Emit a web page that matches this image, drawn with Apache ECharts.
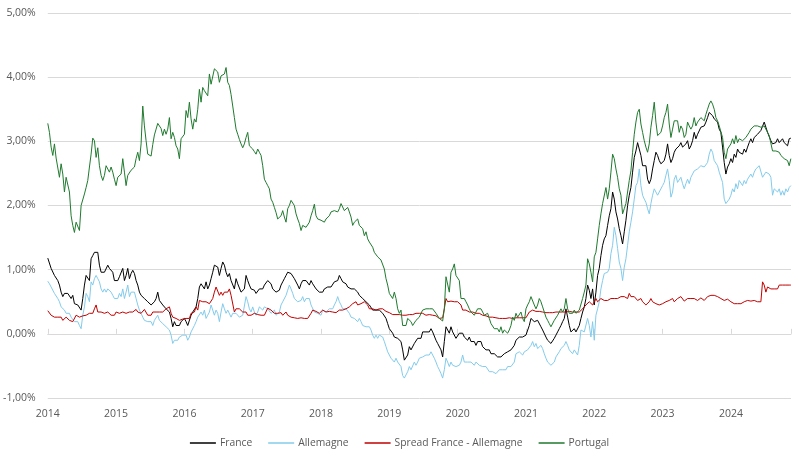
<!DOCTYPE html>
<html>
<head>
<meta charset="utf-8">
<script src="https://cdn.jsdelivr.net/npm/echarts@6/dist/echarts.min.js"></script>
<style>
html,body{margin:0;padding:0;background:#fff;}
#chart{width:799px;height:459px;}
</style>
</head>
<body>
<div id="chart"></div>
<script>
// Series sampled at a regular step (~9 days), starting at the beginning of 2014
const START_YEAR = 2014;
const POINTS_PER_YEAR = 41;
const yearTicks = [2014,2015,2016,2017,2018,2019,2020,2021,2022,2023,2024];
const seriesNames = ['France','Allemagne','Spread France - Allemagne','Portugal'];

const france = [
1.18,1.15,1.02,1.04,0.91,0.89,0.83,0.76,0.65,
0.58,0.63,0.60,0.63,0.60,0.55,0.60,0.47,0.49,0.45,
0.42,0.37,0.55,0.76,0.91,0.89,0.83,1.17,1.22,1.27,
1.25,1.27,1.07,0.96,0.94,0.96,0.96,1.07,1.02,0.99,
0.96,0.83,0.86,0.83,0.89,0.86,1.02,0.83,0.91,1.02,
0.86,0.94,0.99,0.94,0.83,0.76,0.65,0.60,0.58,0.55,
0.55,0.50,0.47,0.45,0.42,0.50,0.55,0.65,0.52,0.50,
0.45,0.47,0.39,0.42,0.34,0.24,0.11,0.19,0.13,0.16,
0.13,0.19,0.21,0.24,
0.19,0.13,0.11,0.29,
0.34,0.32,0.42,0.55,0.73,0.78,0.76,0.70,0.81,0.70,
0.76,0.86,0.96,1.07,1.07,1.04,0.91,1.02,1.12,1.07,
0.96,0.89,0.94,0.83,0.81,0.70,0.86,0.78,0.76,0.65,
0.63,0.70,0.91,0.83,0.76,0.70,0.73,0.68,0.63,0.65,
0.70,0.73,0.70,0.76,0.73,0.83,0.81,0.78,0.70,0.73,
0.65,0.63,0.68,0.76,0.81,0.86,0.91,0.96,0.99,0.94,
0.91,0.86,0.83,0.76,0.70,0.78,0.83,0.81,0.83,0.81,
0.76,0.83,0.78,0.76,0.70,0.73,0.65,0.63,
0.65,0.70,0.68,0.73,0.70,0.73,0.76,0.81,0.83,0.83,
0.91,0.86,0.81,0.78,0.78,0.73,0.70,0.70,0.68,0.70,
0.68,0.65,0.60,0.58,0.55,0.52,0.50,0.52,0.45,0.42,
0.37,0.37,0.37,0.37,0.37,0.34,0.32,0.29,0.24,0.16,
0.08,0.06,0.01,-0.05,-0.02,-0.07,-0.10,-0.12,-0.25,-0.41,
-0.39,-0.33,-0.20,-0.25,-0.23,-0.15,-0.12,-0.07,-0.05,-0.07,
0.03,0.01,0.03,0.06,0.03,0.08,0.03,0.01,-0.10,-0.15,
-0.18,-0.25,-0.36,-0.12,0.11,0.08,0.01,0.11,0.03,0.01,
-0.07,
-0.05,0.01,-0.02,0.01,-0.05,-0.07,-0.10,-0.05,-0.12,-0.10,
-0.12,-0.18,-0.12,-0.15,-0.12,-0.20,-0.23,-0.25,-0.23,-0.25,
-0.31,-0.33,-0.31,-0.33,-0.36,-0.33,-0.36,-0.33,-0.31,-0.33,
-0.28,-0.31,-0.25,-0.23,-0.18,-0.10,-0.07,-0.05,-0.02,-0.05,
-0.07,-0.02,0.01,0.13,0.24,0.26,0.19,0.16,0.21,0.19,
0.11,0.06,0.03,-0.05,-0.10,-0.12,-0.15,-0.12,-0.07,-0.02,
0.03,0.08,0.13,0.19,0.24,0.39,0.26,0.13,0.03,0.01,
0.08,0.03,0.01,0.13,0.24,0.34,0.42,0.55,0.76,0.68,
0.55,
0.70,0.45,0.65,0.91,1.02,1.22,1.38,1.48,1.53,1.69,
1.84,1.95,2.21,2.10,1.90,1.79,1.64,1.53,1.40,1.59,
1.77,2.00,2.16,2.28,2.52,2.75,2.85,2.98,2.96,2.78,
2.62,2.60,2.62,2.41,2.34,2.41,2.57,2.70,2.83,2.78,
2.70,2.65,2.62,2.70,2.80,2.96,2.78,2.67,2.73,2.83,
2.88,2.91,2.93,2.98,2.91,2.88,2.96,3.01,2.88,2.93,
3.01,3.14,3.04,3.11,3.09,3.22,3.19,
3.24,3.30,3.37,3.45,3.48,3.40,3.35,3.37,3.30,3.19,
3.14,2.91,2.67,2.49,2.60,2.65,2.73,2.67,2.80,2.75,
2.88,2.83,2.85,2.80,2.88,2.83,2.91,2.98,3.04,2.98,
3.06,3.09,3.11,3.14,3.17,3.17,3.30,3.22,3.14,3.11,
3.01,2.96,2.98,2.98,3.04,2.98,2.96,3.04,2.98,3.01,
2.93,3.04,3.05
];

const allemagne = [
0.82,0.78,0.73,0.76,0.63,0.60,0.55,0.50,0.42,
0.39,0.37,0.32,0.34,0.32,0.26,0.29,0.19,0.21,0.19,
0.13,0.08,0.29,0.42,0.63,0.58,0.50,0.81,0.76,0.86,
0.91,0.86,0.81,0.70,0.65,0.70,0.65,0.70,0.68,0.65,
0.60,0.55,0.58,0.55,0.63,0.58,0.70,0.55,0.65,0.76,
0.58,0.65,0.63,0.65,0.55,0.45,0.37,0.32,0.26,0.21,
0.24,0.19,0.16,0.19,0.13,0.21,0.24,0.29,0.21,0.19,
0.16,0.16,0.11,0.11,0.06,-0.02,-0.15,-0.10,-0.07,-0.10,
-0.05,-0.07,-0.02,0.01,
-0.02,-0.10,-0.05,0.03,
0.06,0.13,0.19,0.26,0.24,0.34,0.29,0.37,0.24,0.29,
0.34,0.45,0.47,0.29,0.37,0.32,0.19,0.34,0.47,0.39,
0.32,0.37,0.34,0.26,0.32,0.34,0.32,0.29,0.26,0.24,
0.29,0.26,0.58,0.50,0.39,0.34,0.42,0.34,0.29,0.34,
0.42,0.45,0.37,0.42,0.45,0.39,0.37,0.32,0.34,0.37,
0.29,0.32,0.34,0.45,0.50,0.52,0.60,0.68,0.76,0.70,
0.63,0.55,0.55,0.50,0.47,0.52,0.58,0.50,0.55,0.58,
0.55,0.45,0.42,0.34,0.37,0.32,0.32,0.29,
0.37,0.39,0.34,0.37,0.39,0.37,0.39,0.45,0.50,0.58,
0.50,0.45,0.39,0.42,0.39,0.37,0.32,0.26,0.24,0.24,
0.21,0.19,0.24,0.19,0.13,0.16,0.11,0.08,0.11,0.06,
-0.02,-0.07,-0.02,-0.07,-0.02,0.01,-0.05,-0.12,-0.20,-0.28,
-0.33,-0.38,-0.38,-0.44,-0.38,-0.44,-0.46,-0.51,-0.65,-0.69,
-0.67,-0.59,-0.51,-0.56,-0.54,-0.44,-0.49,-0.44,-0.38,-0.41,
-0.36,-0.38,-0.33,-0.31,-0.33,-0.28,-0.31,-0.38,-0.44,-0.51,
-0.56,-0.62,-0.69,-0.56,-0.38,-0.44,-0.51,-0.44,-0.49,-0.49,
-0.51,
-0.51,-0.49,-0.44,-0.33,-0.44,-0.46,-0.44,-0.46,-0.44,-0.46,
-0.49,-0.44,-0.46,-0.49,-0.46,-0.51,-0.54,-0.51,-0.54,-0.59,
-0.56,-0.59,-0.56,-0.62,-0.59,-0.56,-0.59,-0.56,-0.54,-0.56,
-0.51,-0.54,-0.51,-0.49,-0.44,-0.31,-0.33,-0.28,-0.31,-0.33,
-0.28,-0.31,-0.25,-0.23,-0.18,-0.12,-0.20,-0.15,-0.23,-0.20,
-0.18,-0.23,-0.31,-0.38,-0.44,-0.46,-0.49,-0.46,-0.44,-0.36,
-0.33,-0.28,-0.23,-0.20,-0.18,-0.12,-0.18,-0.25,-0.28,-0.31,
-0.25,-0.28,-0.33,-0.18,0.06,0.08,0.03,0.01,0.24,0.13,
-0.05,
0.19,-0.10,0.29,0.39,0.50,0.70,0.83,0.94,0.96,0.96,
1.02,1.25,1.38,1.66,1.53,1.33,1.12,1.02,0.83,1.04,
1.17,1.38,1.59,1.74,1.90,2.10,2.31,2.36,2.57,2.31,
2.16,2.10,2.05,1.95,1.87,2.03,2.16,2.26,2.21,2.16,
2.21,2.23,2.31,2.36,2.47,2.57,2.39,2.13,2.21,2.41,
2.47,2.36,2.34,2.44,2.34,2.26,2.34,2.41,2.34,2.44,
2.47,2.54,2.52,2.57,2.54,2.62,2.60,
2.60,2.57,2.67,2.80,2.88,2.83,2.70,2.73,2.62,2.52,
2.54,2.36,2.10,2.03,2.00,2.10,2.16,2.26,2.21,2.34,
2.26,2.39,2.41,2.31,2.39,2.34,2.41,2.39,2.49,2.44,
2.52,2.57,2.54,2.62,2.65,2.44,2.47,2.52,2.54,2.49,
2.44,2.16,2.26,2.28,2.21,2.26,2.16,2.23,2.16,2.26,
2.21,2.28,2.31
];

const spread = [
0.36,0.34,0.29,0.32,0.26,0.29,0.26,0.24,0.26,
0.21,0.24,0.26,0.24,0.21,0.24,0.19,0.21,0.29,0.26,
0.26,0.26,0.28,0.29,0.29,0.32,0.32,0.34,0.32,0.39,
0.45,0.34,0.32,0.34,0.32,0.32,0.34,0.34,0.32,0.29,
0.32,0.29,0.34,0.32,0.32,0.33,0.34,0.32,0.32,0.32,
0.34,0.35,0.34,0.35,0.38,0.34,0.34,0.32,0.34,0.38,
0.37,0.29,0.26,0.29,0.34,0.33,0.34,0.37,0.34,0.37,
0.34,0.35,0.39,0.42,0.42,0.32,0.26,0.24,0.24,0.23,
0.21,0.21,0.23,0.24,
0.24,0.21,0.24,0.32,
0.32,0.34,0.42,0.37,0.52,0.50,0.50,0.47,0.50,0.52,
0.47,0.47,0.55,0.65,0.73,0.73,0.60,0.65,0.60,0.65,
0.63,0.65,0.70,0.60,0.58,0.34,0.39,0.42,0.39,0.39,
0.34,0.37,0.34,0.29,0.26,0.29,0.29,0.32,0.29,0.30,
0.29,0.29,0.29,0.29,0.29,0.40,0.37,0.37,0.34,0.32,
0.34,0.32,0.32,0.33,0.29,0.32,0.34,0.29,0.26,0.26,
0.24,0.25,0.25,0.24,0.25,0.25,0.24,0.24,0.23,0.24,
0.26,0.32,0.37,0.34,0.35,0.34,0.32,0.32,
0.37,0.34,0.34,0.35,0.35,0.34,0.34,0.35,0.33,0.34,
0.37,0.37,0.37,0.37,0.39,0.40,0.42,0.45,0.47,0.45,
0.50,0.45,0.47,0.47,0.45,0.50,0.47,0.45,0.39,0.37,
0.39,0.37,0.37,0.37,0.39,0.37,0.39,0.37,0.35,0.34,
0.33,0.32,0.30,0.32,0.30,0.30,0.30,0.29,0.29,0.30,
0.29,0.30,0.30,0.29,0.30,0.29,0.32,0.32,0.32,0.33,
0.32,0.30,0.29,0.29,0.30,0.29,0.29,0.29,0.28,0.26,
0.24,0.25,0.25,0.39,0.55,0.50,0.50,0.51,0.50,0.50,
0.47,
0.50,0.47,0.45,0.37,0.39,0.37,0.37,0.34,0.34,0.34,
0.32,0.32,0.32,0.32,0.30,0.29,0.29,0.28,0.28,0.26,
0.26,0.26,0.26,0.25,0.25,0.24,0.25,0.24,0.25,0.24,
0.24,0.25,0.25,0.24,0.25,0.25,0.25,0.25,0.24,0.25,
0.25,0.25,0.26,0.34,0.37,0.37,0.37,0.35,0.34,0.35,
0.34,0.34,0.34,0.33,0.33,0.33,0.32,0.33,0.34,0.34,
0.33,0.34,0.34,0.34,0.34,0.34,0.34,0.35,0.34,0.34,
0.33,0.34,0.34,0.34,0.37,0.39,0.42,0.45,0.47,0.50,
0.50,
0.45,0.50,0.55,0.50,0.52,0.55,0.52,0.52,0.55,0.52,
0.55,0.55,0.58,0.55,0.58,0.55,0.56,0.58,0.55,0.58,
0.60,0.55,0.63,0.58,0.55,0.58,0.58,0.52,0.50,0.55,
0.50,0.47,0.45,0.47,0.50,0.55,0.50,0.52,0.47,0.45,
0.45,0.46,0.47,0.47,0.50,0.52,0.52,0.50,0.55,0.50,
0.52,0.55,0.58,0.58,0.55,0.51,0.52,0.55,0.52,0.55,
0.58,0.55,0.55,0.52,0.55,0.56,0.58,
0.52,0.55,0.58,0.58,0.60,0.63,0.60,0.58,0.58,0.55,
0.55,0.56,0.52,0.52,0.54,0.52,0.50,0.52,0.47,0.50,
0.47,0.50,0.47,0.45,0.50,0.50,0.52,0.50,0.51,0.50,
0.52,0.50,0.50,0.50,0.50,0.81,0.76,0.65,0.73,0.76,
0.70,0.68,0.70,0.68,0.70,0.76,0.78,0.76,0.78,0.76,
0.73,0.76,0.76
];

const portugal = [
3.28,3.14,2.91,2.78,2.96,2.74,2.73,2.44,2.65,
2.49,2.21,2.44,2.41,2.21,1.84,1.69,1.58,1.74,1.72,
1.61,2.00,2.03,2.18,2.28,2.39,2.60,2.80,3.05,3.01,
2.75,2.90,2.62,2.47,2.39,2.47,2.62,2.61,2.52,2.60,
2.52,2.41,2.31,2.44,2.41,2.49,2.73,2.52,2.31,2.47,
2.49,2.55,2.58,2.60,2.73,2.83,2.70,2.96,3.55,3.24,
3.01,2.80,2.78,2.77,2.95,3.10,3.19,3.28,3.30,3.20,
3.09,3.19,3.11,3.19,3.37,3.04,3.14,3.06,2.93,2.88,
2.73,3.04,3.04,3.11,
3.48,3.37,3.61,3.35,
3.19,3.35,3.30,3.50,3.81,3.61,3.84,3.79,3.76,3.71,
4.05,3.89,3.92,4.13,4.15,4.08,3.92,4.02,4.00,4.05,
4.15,3.92,3.87,3.73,3.55,3.37,3.19,3.11,3.03,2.96,
2.90,2.96,3.06,3.14,2.93,2.90,2.88,2.84,2.80,2.88,
2.83,2.78,2.62,2.41,2.36,2.31,2.26,2.10,2.05,1.97,
1.89,1.79,1.82,1.84,1.92,1.82,1.74,1.95,2.00,2.08,
2.05,2.00,1.87,1.79,1.72,1.61,1.69,1.66,1.66,1.69,
1.74,1.84,1.92,2.02,1.84,1.79,1.79,1.77,
1.77,1.74,1.79,1.82,1.84,1.90,1.87,1.92,1.95,1.90,
1.95,2.03,2.03,1.92,1.95,1.97,1.90,1.82,1.69,1.74,
1.77,1.79,1.69,1.66,1.64,1.53,1.59,1.48,1.43,1.46,
1.35,1.27,1.27,1.20,1.17,1.15,1.12,1.01,0.86,0.76,
0.63,0.60,0.55,0.65,0.55,0.39,0.32,0.37,0.13,0.16,
0.13,0.24,0.26,0.19,0.13,0.16,0.21,0.21,0.26,0.32,
0.37,0.39,0.39,0.42,0.39,0.42,0.39,0.37,0.32,0.29,
0.24,0.21,0.20,0.39,0.89,0.91,0.65,0.96,1.01,1.09,
0.91,
0.94,0.83,0.55,0.58,0.55,0.50,0.45,0.39,0.34,0.32,
0.29,0.32,0.39,0.37,0.39,0.34,0.29,0.26,0.32,0.24,
0.16,0.13,0.08,0.06,0.08,0.03,0.11,0.01,0.06,0.08,
0.01,0.06,0.13,0.26,0.21,0.32,0.26,0.29,0.34,0.24,
0.19,0.39,0.45,0.50,0.58,0.55,0.45,0.39,0.45,0.55,
0.50,0.42,0.34,0.26,0.21,0.16,0.11,0.13,0.21,0.24,
0.29,0.34,0.39,0.34,0.39,0.55,0.39,0.32,0.34,0.32,
0.37,0.32,0.34,0.37,0.39,0.55,0.65,0.76,1.17,1.09,
0.96,
0.81,1.20,1.27,1.48,1.69,1.87,2.03,2.05,2.28,2.10,
2.26,2.52,2.80,2.73,2.57,2.44,2.26,2.16,1.87,1.95,
2.03,2.21,2.39,2.54,2.83,3.11,3.30,3.45,3.50,3.27,
3.14,3.01,2.91,2.83,2.96,3.22,3.40,3.61,3.30,3.09,
3.06,3.14,3.24,3.37,3.45,3.58,3.27,3.06,3.19,3.32,
3.30,3.32,3.14,3.24,3.19,3.06,3.11,3.30,3.24,3.19,
3.24,3.37,3.24,3.30,3.27,3.37,3.35,
3.32,3.42,3.50,3.58,3.63,3.58,3.50,3.37,3.32,3.24,
3.22,3.06,2.83,2.73,2.88,2.91,2.96,3.04,2.96,3.09,
2.98,3.04,3.06,3.01,3.04,3.06,3.04,3.14,3.19,3.17,
3.24,3.22,3.24,3.27,3.22,3.24,3.24,3.22,3.14,3.09,
3.09,2.85,2.88,2.85,2.88,2.83,2.78,2.80,2.73,2.75,
2.70,2.62,2.73
];

const colors = ['#000000', '#83CBEB', '#C00000', '#1F7A2E'];
const valuesBySeries = [france, allemagne, spread, portugal];

function toPoints(arr) {
  return arr.map((v, i) => [START_YEAR + i / POINTS_PER_YEAR, v]);
}

const chart = echarts.init(document.getElementById('chart'), null, {renderer: 'canvas'});
const textColor = '#595959';
const fontFamily = '"Open Sans", "Noto Sans", sans-serif';

chart.setOption({
  animation: false,
  backgroundColor: '#ffffff',
  grid: {left: 47, right: 8, top: 13, bottom: 61, containLabel: false},
  legend: {
    bottom: 6,
    left: 'center',
    icon: 'rect',
    itemWidth: 26,
    itemHeight: 1.5,
    itemGap: 16,
    textStyle: {color: textColor, fontSize: 10.3, fontFamily: fontFamily, padding: [0, 0, 0, -1]},
    data: seriesNames
  },
  xAxis: [{
    type: 'value',
    min: yearTicks[0],
    max: 2024.88,
    interval: 1,
    axisLine: {show: false, onZero: false},
    axisTick: {show: false},
    splitLine: {show: false},
    axisLabel: {
      color: textColor, fontSize: 10.5, fontFamily: fontFamily, margin: 11,
      showMaxLabel: false,
      formatter: v => yearTicks.indexOf(Math.round(v)) >= 0 ? String(Math.round(v)) : ''
    }
  }, {
    type: 'value',
    min: yearTicks[0],
    max: 2024.88,
    interval: 1,
    axisLine: {show: true, onZero: true, lineStyle: {color: '#D9D9D9', width: 1}},
    axisTick: {show: true, length: 5, lineStyle: {color: '#D9D9D9'}},
    axisLabel: {show: false},
    splitLine: {show: false}
  }],
  yAxis: {
    type: 'value',
    min: -1,
    max: 5,
    interval: 1,
    axisLine: {show: false},
    axisTick: {show: false},
    splitLine: {lineStyle: {color: '#D9D9D9', width: 1}},
    axisLabel: {
      color: textColor, fontSize: 10.5, fontFamily: fontFamily, margin: 12,
      formatter: v => v.toFixed(2).replace('.', ',') + '%'
    }
  },
  series: seriesNames.map((name, k) => ({
    name: name,
    type: 'line',
    xAxisIndex: 0,
    data: toPoints(valuesBySeries[k]),
    showSymbol: false,
    symbol: 'none',
    sampling: 'none',
    lineStyle: {color: colors[k], width: 1},
    itemStyle: {color: colors[k]},
    emphasis: {disabled: true}
  }))
});
</script>
</body>
</html>
